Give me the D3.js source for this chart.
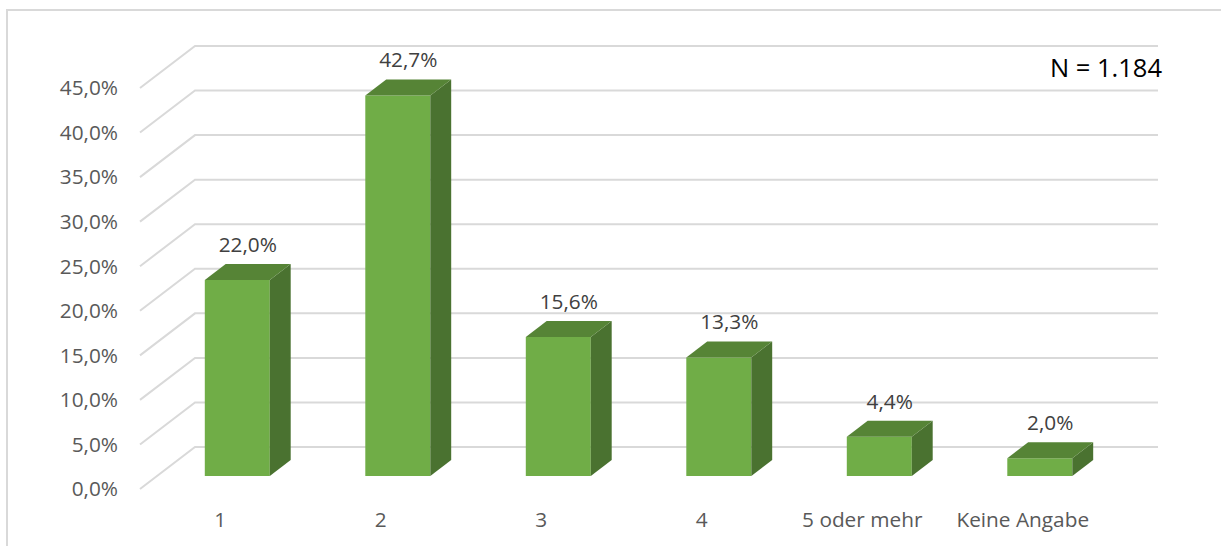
<!DOCTYPE html>
<html>
<head>
<meta charset="utf-8">
<script src="https://cdn.jsdelivr.net/npm/d3@7"></script>
<style>
  html, body { margin: 0; padding: 0; background: #fff; }
  svg { display: block; font-family: "Open Sans", sans-serif; }
</style>
</head>
<body>
<svg id="chart" width="1221" height="546"></svg>
<script>
// Household size distribution (share of respondents)
const categories = ["1", "2", "3", "4", "5 oder mehr", "Keine Angabe"];
const values = [22.0, 42.7, 15.6, 13.3, 4.4, 2.0];
const yTicks = [0, 5, 10, 15, 20, 25, 30, 35, 40, 45];
const sampleLabel = "N = 1.184";

const fmt = v => v.toFixed(1).replace(".", ",") + "%";

const svg = d3.select("#chart");

// Back wall of the 3D plot
const x = d3.scaleBand().domain(categories).range([195, 1158]);
const y = d3.scaleLinear().domain([0, 45]).range([447, 46]);

// Depth projection: d=0 is the back wall, d=1 the front edge of the floor
const DX = -55, DY = 42;
const P = (px, py, d) => [px + DX * d, py + DY * d];

const barHalf = 32.5;
const dFront = 0.69, dBack = 0.31;
const labelSize = 20.8;

// Outer chart border
svg.append("rect")
  .attr("x", 7).attr("y", 10)
  .attr("width", 1240).attr("height", 560)
  .attr("fill", "none")
  .attr("stroke", "#d9d9d9")
  .attr("stroke-width", 2);

// Gridlines: back wall plus slanted side wall
const grid = svg.append("g").attr("stroke", "#d9d9d9").attr("stroke-width", 2).attr("fill", "none");
yTicks.forEach(t => {
  const yy = y(t);
  const [fx, fy] = P(x.range()[0], yy, 1);
  grid.append("path")
    .attr("d", `M${fx},${fy}L${x.range()[0]},${yy}L${x.range()[1]},${yy}`);
});

// Y axis labels sit at the front of the side wall
svg.append("g").selectAll("text")
  .data(yTicks)
  .join("text")
  .attr("x", 118)
  .attr("y", d => P(0, y(d), 1)[1])
  .attr("dy", "0.35em")
  .attr("text-anchor", "end")
  .attr("font-size", labelSize)
  .attr("fill", "#595959")
  .text(d => fmt(d));

// Bars as boxes: front, side and top faces
const bars = svg.append("g");
categories.forEach((c, i) => {
  const v = values[i];
  const xc = x(c) + x.bandwidth() / 2;
  const x0 = xc - barHalf, x1 = xc + barHalf;
  const yTop = y(v), yBase = y(0);

  const fTL = P(x0, yTop, dFront), fTR = P(x1, yTop, dFront);
  const fBL = P(x0, yBase, dFront), fBR = P(x1, yBase, dFront);
  const bTL = P(x0, yTop, dBack), bTR = P(x1, yTop, dBack);
  const bBR = P(x1, yBase, dBack);

  const poly = pts => "M" + pts.map(p => p.join(",")).join("L") + "Z";

  bars.append("path").attr("d", poly([fTL, fTR, fBR, fBL])).attr("fill", "#70ad47");
  bars.append("path").attr("d", poly([fTR, bTR, bBR, fBR])).attr("fill", "#4a7230");
  bars.append("path").attr("d", poly([fTL, bTL, bTR, fTR])).attr("fill", "#568436");

  // Value label above the middle of the bar top
  const mid = P(xc, yTop, 0.5);
  svg.append("text")
    .attr("x", mid[0])
    .attr("y", mid[1] - 20)
    .attr("text-anchor", "middle")
    .attr("font-size", labelSize)
    .attr("fill", "#404040")
    .text(fmt(v));

  // Category label at the front edge of the floor
  const front = P(xc, yBase, 1);
  svg.append("text")
    .attr("x", front[0])
    .attr("y", 527)
    .attr("text-anchor", "middle")
    .attr("font-size", labelSize)
    .attr("fill", "#595959")
    .text(c);
});

// Sample size note
svg.append("text")
  .attr("x", 1162)
  .attr("y", 77)
  .attr("text-anchor", "end")
  .attr("font-size", 25.5)
  .attr("fill", "#000")
  .text(sampleLabel);
</script>
</body>
</html>
